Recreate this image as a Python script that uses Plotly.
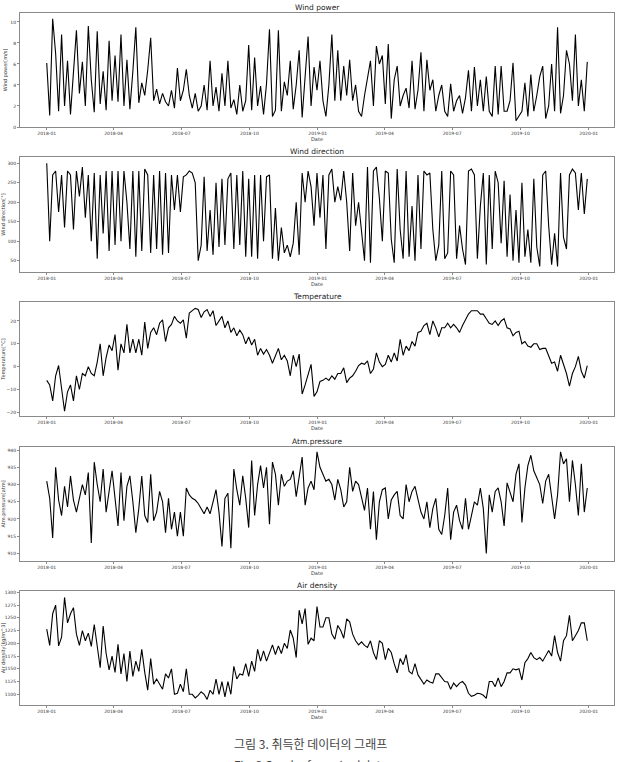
import pandas as pd
import plotly.graph_objects as go

# ---------------- data (4-day samples) ----------------
dates = pd.date_range("2018-01-01", periods=183, freq="4D")

wind_power = [
    6.1, 1.1, 10.3, 7.0, 1.5, 8.8, 2.0, 6.3, 1.2, 5.4,
    9.2, 3.2, 6.2, 2.0, 9.6, 4.5, 1.4, 9.1, 2.2, 5.3,
    1.6, 8.2, 2.5, 6.8, 2.4, 8.8, 2.0, 6.4, 1.7, 5.3,
    9.5, 2.3, 4.2, 3.0, 5.4, 8.5, 2.5, 3.6, 2.2, 3.2,
    2.4, 2.0, 3.5, 1.8, 5.6, 2.5, 3.5, 5.5, 3.0, 1.8,
    3.2, 1.5, 2.0, 4.0, 1.6, 6.3, 2.0, 3.8, 1.5, 5.1,
    2.0, 6.3, 1.8, 2.6, 1.2, 4.0, 1.5, 2.5, 7.8, 1.6,
    6.6, 2.0, 3.9, 1.2, 4.1, 9.3, 1.0, 1.6, 9.2, 1.5,
    4.3, 3.0, 6.3, 1.7, 4.0, 7.3, 0.9, 4.8, 8.6, 2.0,
    5.7, 3.5, 6.3, 2.5, 1.0, 4.0, 8.8, 2.5, 7.3, 2.5,
    5.8, 3.0, 6.4, 2.5, 4.0, 1.5, 1.0, 3.0, 4.5, 6.3,
    2.0, 7.7, 6.0, 6.8, 2.2, 7.9, 0.8, 4.5, 5.8, 2.0,
    3.0, 3.7, 1.8, 6.3, 1.7, 3.5, 7.1, 1.5, 6.4, 3.5,
    4.5, 1.5, 3.0, 4.0, 1.5, 1.0, 4.1, 1.5, 2.5, 3.0,
    1.3, 2.8, 5.4, 1.5, 5.7, 2.0, 4.5, 1.5, 4.8, 1.5,
    1.0, 5.8, 1.2, 5.8, 1.5, 1.5, 2.5, 6.1, 0.6, 1.0,
    1.5, 4.2, 1.0, 5.0, 1.5, 3.0, 4.8, 5.8, 0.8, 2.0,
    6.0, 1.5, 9.5, 1.3, 3.0, 7.3, 6.0, 2.5, 8.8, 2.0,
    4.5, 1.5, 6.2,
]

wind_direction = [
    300, 100, 270, 280, 175, 270, 135, 280, 270, 130,
    280, 215, 290, 160, 270, 100, 275, 55, 270, 120,
    280, 75, 280, 90, 280, 100, 280, 200, 80, 280,
    60, 280, 75, 285, 270, 70, 270, 80, 280, 65,
    275, 70, 270, 180, 270, 175, 265, 270, 280, 275,
    250, 50, 90, 265, 75, 180, 65, 250, 85, 260,
    90, 260, 275, 80, 270, 90, 280, 60, 260, 60,
    270, 55, 270, 100, 265, 270, 55, 185, 50, 135,
    70, 90, 60, 95, 200, 65, 275, 200, 280, 240,
    140, 275, 160, 270, 80, 270, 285, 200, 240, 205,
    280, 200, 75, 275, 140, 200, 125, 50, 290, 45,
    280, 290, 210, 100, 280, 275, 105, 45, 285, 130,
    55, 280, 60, 190, 50, 270, 80, 280, 270, 275,
    130, 50, 90, 280, 55, 70, 280, 270, 55, 140,
    80, 40, 280, 285, 270, 55, 190, 275, 40, 270,
    80, 280, 250, 95, 255, 60, 220, 50, 180, 45,
    250, 60, 130, 45, 260, 85, 35, 270, 280, 140,
    40, 120, 35, 275, 110, 80, 270, 285, 275, 180,
    275, 170, 260,
]

temperature = [
    -6, -8, -15, -4, 0.5, -9, -19.5, -11, -8, -15,
    -4, -10, -3, -4, 0, -3, -4, 2, 10, -4,
    4, 9.5, 7, 14, -1.5, 10, 6, 18.5, 6, 12,
    6, 12, 5, 19.5, 8, 15, 17, 14, 19, 20.5,
    11, 17, 18.5, 22, 20, 19, 20.5, 12.5, 23.5, 24.5,
    25.5, 25, 21.5, 24, 25, 22, 24.5, 18, 20, 22,
    17, 20, 15, 17, 13.5, 16, 14, 10, 13, 9.5,
    12, 5, 8, 5.5, 7.5, 5, 1.5, 4.5, 8, 3,
    5, 2.5, -4, 5, 0, 5.5, -12, -8, -3, 1,
    -13, -11, -6.5, -6, -5, -6, -4, -5.5, -3, -3,
    -0.5, -7, -5, -4, -2, 0.5, 1.5, 1, 2.5, -3,
    -1, 6, 2, 0, 1, 5, 2, 6, 2.5, 12,
    5, 9, 7, 11, 9, 15, 15.5, 18, 19, 14,
    20, 17, 13, 17, 17, 19, 17, 18.5, 17, 15,
    18, 20.5, 23, 24.5, 24.5, 24.5, 23, 23, 21, 19,
    18.5, 20, 18, 20, 21, 17, 16.5, 13.5, 15, 15.5,
    10, 11, 9, 8.5, 10, 10, 7.5, 8, 8, 5,
    1.5, 2, -2, 5, 1, -3, -8.5, -3, 0, 4.5,
    -2, -5, 0.5,
]

atm_pressure = [
    931, 926, 914.5, 935, 925.5, 921, 929.5, 923.5, 932.5, 925.5,
    922, 926, 930, 927, 933.5, 913, 936.5, 930, 925, 934.5,
    922, 928, 934, 926, 918, 933.5, 919.5, 929.5, 932.5, 925,
    916, 923, 932.5, 921, 919, 933, 919.5, 922, 928, 925,
    916, 926, 917, 922, 915, 922, 915, 929, 927, 926,
    925.5, 924.5, 923, 921.5, 923.5, 921.5, 925, 928.5, 922, 912,
    926, 927.5, 911.5, 934.5, 928.5, 924, 932.5, 926, 917.5, 937,
    921, 930, 935.5, 929, 935, 918.5, 936.5, 933, 924, 933,
    929.5, 931, 931.5, 934, 926.5, 933, 938, 924, 929, 931,
    928.5, 939.5, 935, 933, 931, 931.5, 930, 925.5, 931.5, 928.5,
    923.5, 925, 935, 928, 931, 930, 926, 922.5, 929, 917,
    928, 914, 925, 928.5, 929, 920, 925.5, 927, 928, 921,
    920, 930, 925, 928, 929.5, 926, 922, 920, 925, 917.5,
    923, 926, 917, 915.5, 921, 929, 914, 922, 924, 919.5,
    917, 926, 917, 921, 925, 924, 929, 923, 910, 927,
    922, 928, 929, 925, 918, 930.5, 928, 925, 933, 936,
    919, 929, 935.5, 938.5, 934, 932, 930, 924.5, 931, 933,
    926, 920, 927, 939.5, 936, 937.5, 925, 937, 930, 921,
    936, 922, 929,
]

air_density = [
    1228, 1196, 1258, 1275, 1195, 1212, 1290, 1240, 1258, 1270,
    1218, 1196, 1225, 1205, 1220, 1194, 1237, 1195, 1152, 1234,
    1180, 1148, 1175, 1143, 1198, 1140, 1180, 1125, 1185, 1135,
    1165, 1145, 1188, 1143, 1108, 1170, 1120, 1130, 1120, 1110,
    1140, 1132, 1150, 1100, 1102, 1120, 1105, 1150, 1100, 1100,
    1093, 1098, 1105, 1100, 1090, 1108, 1100, 1130, 1100, 1125,
    1095, 1125, 1100, 1155, 1130, 1140, 1138, 1160, 1135, 1165,
    1145, 1188, 1165, 1185, 1165, 1183, 1197, 1178, 1195, 1180,
    1200, 1190, 1226, 1210, 1172, 1265, 1238, 1268, 1198, 1210,
    1205, 1272, 1232, 1232, 1250, 1250, 1218, 1208, 1235, 1225,
    1210, 1248, 1242, 1218, 1205, 1197, 1203, 1196, 1192, 1205,
    1182, 1168, 1205, 1200, 1168, 1190, 1182, 1160, 1142, 1170,
    1158, 1178, 1145, 1140, 1160, 1138, 1128, 1120, 1128, 1124,
    1122, 1140, 1140, 1132, 1125, 1124, 1110, 1122, 1115, 1122,
    1125, 1118, 1102, 1096, 1098, 1102, 1101, 1098, 1092, 1125,
    1125, 1115, 1132, 1115, 1125, 1142, 1142, 1150, 1148, 1150,
    1128, 1162, 1170, 1182, 1172, 1168, 1172, 1165, 1176, 1186,
    1175, 1215, 1182, 1165, 1205, 1215, 1255, 1205, 1215, 1225,
    1240, 1240, 1205,
]

titles = ["Wind power", "Wind direction", "Temperature", "Atm.pressure", "Air density"]
y_labels = ["Wind power[m/s]", "Wind direction[°]", "Temperature[°C]",
            "Atm.pressure[atm]", "Air density[kg/m^3]"]
y_ticks = [
    [0, 2, 4, 6, 8, 10],
    [50, 100, 150, 200, 250, 300],
    [-20, -10, 0, 10, 20],
    [910, 915, 920, 925, 930, 935, 940],
    [1100, 1125, 1150, 1175, 1200, 1225, 1250, 1275, 1300],
]
x_tick_dates = ["2018-01-01", "2018-04-01", "2018-07-01", "2018-10-01", "2019-01-01",
                "2019-04-01", "2019-07-01", "2019-10-01", "2020-01-01"]
x_tick_labels = ["2018-01", "2018-04", "2018-07", "2018-10", "2019-01",
                 "2019-04", "2019-07", "2019-10", "2020-01"]
caption_ko = "그림 3. 취득한 데이터의 그래프"
caption_en = "Fig. 3 Graph of acquired data"

series = [wind_power, wind_direction, temperature, atm_pressure, air_density]

# ---------------- layout ----------------
W, H = 621, 762
left_px, right_px = 20, 614
tops = [13, 157, 302, 447, 591]
bottoms = [127, 272, 416, 561, 705]
y_ranges = [[0, 10.85], [21, 316], [-21.6, 28.3], [907.8, 940.9], [1079, 1302.6]]
x_range = ["2017-11-26", "2020-02-04"]

FONT = "DejaVu Sans, Liberation Sans, sans-serif"
frame = "#8a8a8a"

fig = go.Figure()
layout = dict(
    width=W, height=H,
    margin=dict(l=0, r=0, t=0, b=0),
    paper_bgcolor="white", plot_bgcolor="white",
    showlegend=False,
    font=dict(family=FONT, color="#333"),
    annotations=[],
)

for k in range(5):
    n = "" if k == 0 else str(k + 1)
    fig.add_trace(go.Scatter(
        x=dates, y=series[k], mode="lines",
        line=dict(color="#000000", width=1.1),
        xaxis="x" + n, yaxis="y" + n, hoverinfo="skip",
    ))
    ydom = [1 - bottoms[k] / H, 1 - tops[k] / H]
    layout["xaxis" + n] = dict(
        domain=[left_px / W, right_px / W], anchor="y" + n,
        type="date", range=x_range,
        tickmode="array", tickvals=x_tick_dates, ticktext=x_tick_labels,
        tickfont=dict(size=4.5, family=FONT, color="#333"),
        ticks="outside", ticklen=2, tickwidth=0.8, tickcolor=frame,
        showline=True, mirror=True, linecolor=frame, linewidth=1,
        showgrid=False, zeroline=False, automargin=False,
        title=dict(text="Date", font=dict(size=5, family=FONT, color="#333"), standoff=1),
    )
    layout["yaxis" + n] = dict(
        domain=ydom, anchor="x" + n, range=y_ranges[k],
        tickmode="array", tickvals=y_ticks[k],
        tickfont=dict(size=4.5, family=FONT, color="#333"),
        ticks="outside", ticklen=2, tickwidth=0.8, tickcolor=frame,
        showline=True, mirror=True, linecolor=frame, linewidth=1,
        showgrid=False, zeroline=False, automargin=False,
        title=dict(text=y_labels[k], font=dict(size=5, family=FONT, color="#333"), standoff=2),
    )
    layout["annotations"].append(dict(
        text=titles[k], xref="paper", yref="paper",
        x=(left_px + right_px) / 2 / W, y=1 - (tops[k] - 6) / H,
        xanchor="center", yanchor="middle", showarrow=False,
        font=dict(size=7.5, family=FONT, color="#222"),
    ))

layout["annotations"].append(dict(
    text=caption_ko, xref="paper", yref="paper",
    x=310 / W, y=1 - 743 / H, xanchor="center", yanchor="middle", showarrow=False,
    font=dict(size=12, family="Noto Sans CJK KR", color="#444"),
))
layout["annotations"].append(dict(
    text=caption_en, xref="paper", yref="paper",
    x=310 / W, y=1 - 765 / H, xanchor="center", yanchor="middle", showarrow=False,
    font=dict(size=11.5, family="Noto Sans CJK KR", color="#444"),
))

fig.update_layout(**layout)
fig.write_html("out.html")
